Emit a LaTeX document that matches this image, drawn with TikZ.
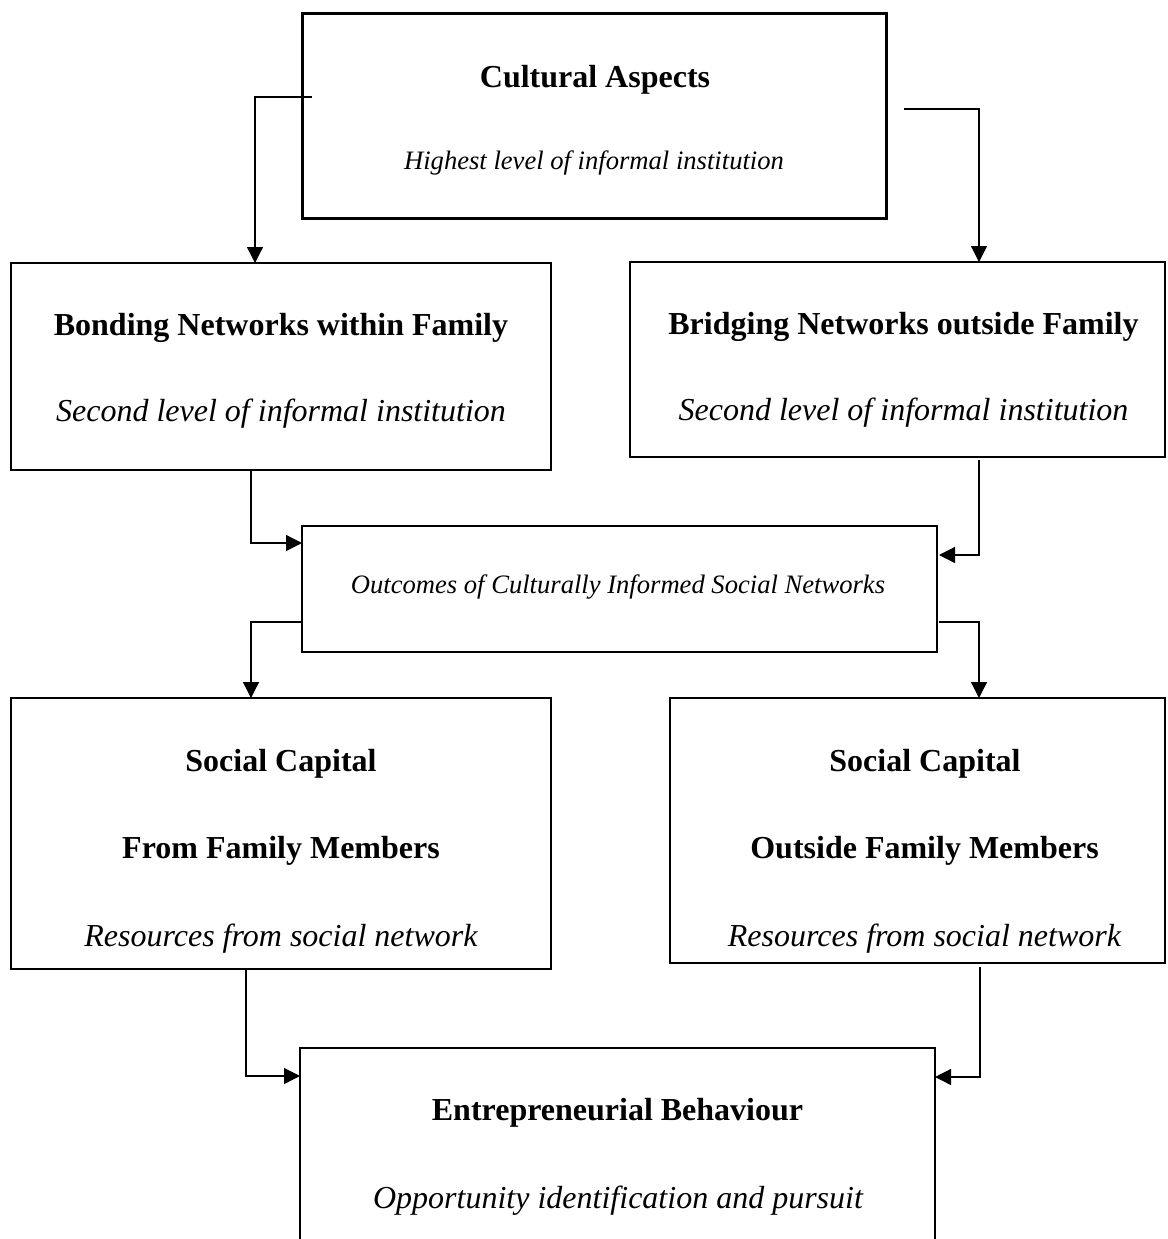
\documentclass[tikz,border=0pt]{standalone}
\usepackage{fontspec}
\setmainfont{Liberation Serif}
\usetikzlibrary{arrows.meta,calc}
\begin{document}
\begin{tikzpicture}[x=1pt,y=-1pt,
  box/.style={draw, line width=1.3pt, inner sep=0pt, outer sep=0pt},
  thickbox/.style={box, line width=3pt},
  title/.style={inner sep=0pt, anchor=base, font=\fontsize{32}{38}\selectfont\bfseries},
  sub/.style={inner sep=0pt, anchor=base, font=\fontsize{32}{38}\selectfont\itshape},
  subsmall/.style={inner sep=0pt, anchor=base, font=\fontsize{26.6}{32}\selectfont\itshape},
  conn/.style={draw, line width=1.3pt, -{Triangle[length=16pt,width=16pt]}}]
\useasboundingbox (0,0) rectangle (1167,1239);
\clip (0,0) rectangle (1167,1239);

% boxes
\node[thickbox, minimum width=584pt, minimum height=204pt] (cult) at (594,116) {};
\node[box, minimum width=540pt, minimum height=207pt] (bond) at (281,366.5) {};
\node[box, minimum width=535pt, minimum height=195pt] (brid) at (897.5,359.5) {};
\node[box, minimum width=635pt, minimum height=126pt] (outc) at (619.5,589) {};
\node[box, minimum width=540pt, minimum height=271pt] (socl) at (281,833.5) {};
\node[box, minimum width=495pt, minimum height=265pt] (socr) at (917.5,830.5) {};
\node[box, minimum width=635pt, minimum height=222pt] (entr) at (617.5,1159) {};

% texts
\node[title] (cultT) at (595,88) {Cultural Aspects};
\node[subsmall] (cultS) at (594,169) {Highest level of informal institution};
\node[title] (bondT) at (281,335) {Bonding Networks within Family};
\node[sub] (bondS) at (281,421) {Second level of informal institution};
\node[title] (bridT) at (903.5,334) {Bridging Networks outside Family};
\node[sub] (bridS) at (903.5,420) {Second level of informal institution};
\node[subsmall] (outcS) at (618,593) {Outcomes of Culturally Informed Social Networks};
\node[title] (soclT1) at (281,771) {Social Capital};
\node[title] (soclT2) at (281,858) {From Family Members};
\node[sub] (soclS) at (281,946) {Resources from social network};
\node[title] (socrT1) at (925,771) {Social Capital};
\node[title] (socrT2) at (924.5,858) {Outside Family Members};
\node[sub] (socrS) at (924.5,946) {Resources from social network};
\node[title] (entrT) at (617.5,1120) {Entrepreneurial Behaviour};
\node[sub] (entrS) at (618,1208) {Opportunity identification and pursuit};

% connector start points
\coordinate (c1) at (312,97);
\coordinate (c2) at (904,109);

% connectors
\draw[conn] (c1) -| ([xshift=-26pt]bond.north);
\draw[conn] (c2) -| ([xshift=81.5pt]brid.north);
\draw[conn] ([xshift=-30pt]bond.south) |- ([yshift=46pt]outc.west);
\draw[conn] ([xshift=81.5pt,yshift=-3pt]brid.south) |- ([yshift=34pt,xshift=2pt]outc.east);
\draw[conn] ([yshift=-33pt]outc.west) -| ([xshift=-30pt]socl.north);
\draw[conn] ([yshift=-33pt,xshift=2pt]outc.east) -| ([xshift=61.5pt]socr.north);
\draw[conn] ([xshift=-35pt]socl.south) |- ([yshift=83pt]entr.west);
\draw[conn] ([xshift=62.5pt,yshift=-4pt]socr.south) |- ([yshift=82pt]entr.east);
\end{tikzpicture}
\end{document}
